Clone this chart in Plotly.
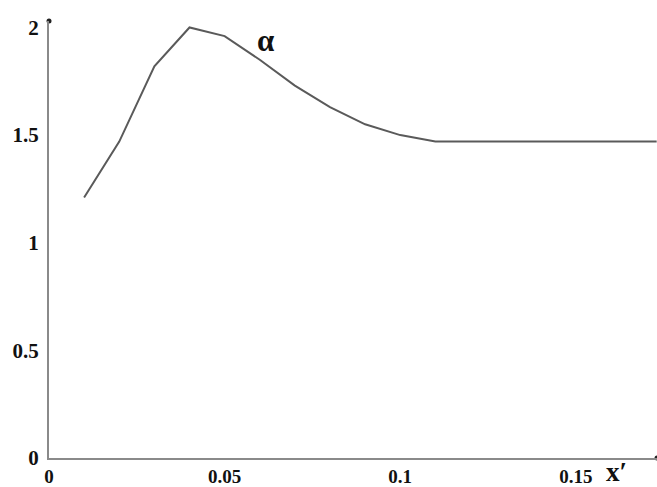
import plotly.graph_objects as go

# Curve alpha(x')
x_vals = [0.01, 0.02, 0.03, 0.04, 0.05, 0.06, 0.07, 0.08, 0.09, 0.10, 0.11, 0.173]
alpha_vals = [1.21, 1.47, 1.82, 2.00, 1.96, 1.85, 1.73, 1.63, 1.55, 1.50, 1.47, 1.47]

x_ticks = [0, 0.05, 0.1, 0.15]
x_tick_labels = ["0", "0.05", "0.1", "0.15"]
y_ticks = [0, 0.5, 1, 1.5, 2]
y_tick_labels = ["0", "0.5", "1", "1.5", "2"]

x_max = 0.1731
y_max = 2.03

y_tick_font = dict(family="Liberation Serif", size=21, color="#111111", weight="bold")
x_tick_font = dict(family="Liberation Serif", size=19, color="#111111", weight="bold")

fig = go.Figure()

fig.add_trace(go.Scatter(
    x=x_vals, y=alpha_vals, mode="lines",
    line=dict(color="#5a5a5a", width=2),
    hoverinfo="skip", showlegend=False,
))

# Small dots at the ends of the axes
fig.add_trace(go.Scatter(
    x=[0, x_max], y=[y_max, 0], mode="markers",
    marker=dict(color="#222222", size=5),
    cliponaxis=False, hoverinfo="skip", showlegend=False,
))

fig.add_annotation(x=0.0615, y=1.94, text="α", showarrow=False,
                   font=dict(family="Liberation Serif", size=31, color="#111111", weight="bold"))
fig.add_annotation(x=0.1615, y=0, yshift=-14, text="x′", showarrow=False,
                   font=dict(family="Liberation Serif", size=27, color="#111111", weight="bold"))

fig.update_layout(
    width=657, height=487,
    margin=dict(l=49, r=0, t=21, b=29),
    paper_bgcolor="white", plot_bgcolor="white",
    xaxis=dict(range=[0, x_max], tickvals=x_ticks, ticktext=x_tick_labels,
               showgrid=False, zeroline=False, showline=True, automargin=False,
               linecolor="#8a8a8a", linewidth=2, ticks="",
               tickfont=x_tick_font, ticklabelstandoff=0),
    yaxis=dict(range=[0, y_max], tickvals=y_ticks, ticktext=y_tick_labels,
               showgrid=False, zeroline=False, showline=True, automargin=False,
               linecolor="#8a8a8a", linewidth=2, ticks="",
               tickfont=y_tick_font, ticklabelstandoff=4),
)

fig.write_html("out.html")
